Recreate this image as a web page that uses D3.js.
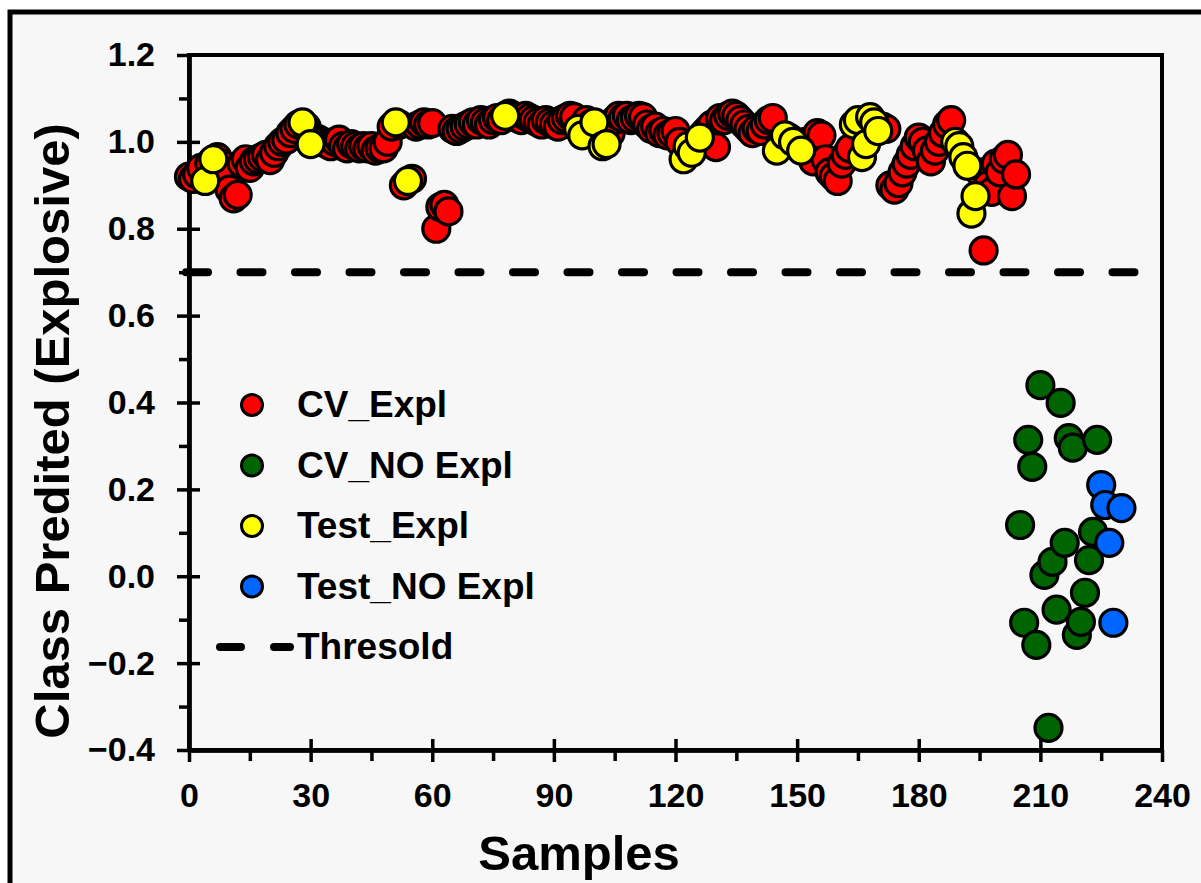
<!DOCTYPE html>
<html><head><meta charset="utf-8">
<script src="https://cdn.jsdelivr.net/npm/d3@7"></script>
<style>body{margin:0;background:#fff} svg{display:block} text{font-family:"Liberation Sans",Arial,sans-serif;font-weight:bold;}</style>
</head><body><svg id="c" width="1201" height="883"></svg>
<script>
// ---- data ----
const cvExplSamples = [0,1,2,3,5,7,8,9,10,11,12,13,14,15,16,17,18,19,20,21,22,23,24,25,26,27,29,31,32,33,34,35,36,37,38,39,40,41,42,43,44,45,46,47,48,49,50,52,53,55,56,57,58,59,60,61,62,63,64,65,66,67,68,69,70,71,72,73,74,75,76,77,79,80,81,82,83,84,85,86,87,88,89,90,91,92,93,94,95,98,99,101,104,105,106,107,108,109,110,111,112,113,114,115,116,117,118,119,120,121,125,127,128,129,130,131,132,133,134,135,136,137,138,139,140,141,142,143,144,146,148,150,152,153,154,155,156,157,158,159,160,161,162,163,171,172,173,174,175,176,177,178,179,180,181,182,183,184,185,186,187,188,195,196,197,198,199,200,201,202,203,204];
const cvExplValues = [0.92,0.915,0.925,0.94,0.95,0.965,0.95,0.92,0.89,0.87,0.878,0.95,0.96,0.94,0.955,0.96,0.965,0.97,0.958,0.975,0.99,1.0,1.005,1.02,1.03,1.04,1.035,1.01,1.005,1.0,0.995,0.99,1.0,1.005,0.99,0.985,0.995,0.99,0.985,0.99,0.985,0.99,0.98,0.985,0.985,1.0,1.035,1.04,0.9,0.915,1.035,1.04,1.045,1.04,1.043,0.80,0.85,0.855,0.84,1.03,1.025,1.03,1.035,1.04,1.045,1.04,1.05,1.045,1.04,1.05,1.055,1.05,1.065,1.06,1.055,1.05,1.06,1.055,1.05,1.045,1.04,1.05,1.045,1.04,1.035,1.05,1.055,1.06,1.057,1.05,1.04,1.03,1.02,1.05,1.06,1.055,1.06,1.05,1.055,1.06,1.057,1.04,1.03,1.035,1.02,1.025,1.015,1.02,1.025,1.0,1.0,1.02,1.03,1.04,0.988,1.055,1.05,1.06,1.065,1.06,1.05,1.04,1.03,1.02,1.03,1.025,1.04,1.05,1.055,1.0,1.01,0.99,1.0,0.99,0.955,1.02,1.015,0.96,0.93,0.92,0.91,0.95,0.97,0.985,1.035,1.03,0.9,0.89,0.905,0.93,0.95,0.97,0.99,1.01,1.0,0.98,0.955,0.98,1.0,1.02,1.04,1.05,0.93,0.75,0.9,0.885,0.95,0.93,0.96,0.97,0.875,0.925];
const cvNoExplSamples = [205,206,207,208,209,210,211,212,213,214,215,216,217,218,219,220,221,222,223,224];
const cvNoExplValues = [0.118,-0.107,0.314,0.252,-0.158,0.44,0.003,-0.349,0.033,-0.077,0.399,0.077,0.318,0.296,-0.135,-0.105,-0.038,0.037,0.102,0.314];
const testExplSamples = [4,6,28,30,51,54,78,96,97,100,102,103,122,123,124,126,145,147,149,151,164,165,166,167,168,169,170,189,190,191,192,193,194];
const testExplValues = [0.91,0.96,1.045,0.995,1.045,0.91,1.06,1.03,1.015,1.045,0.99,0.995,0.96,0.99,0.975,1.01,0.98,1.015,1.0,0.98,1.04,1.05,0.965,0.995,1.057,1.045,1.025,1.0,0.99,0.965,0.945,0.835,0.875];
const testNoExplSamples = [225,226,227,228,230];
const testNoExplValues = [0.21,0.164,0.077,-0.107,0.157];
const thresholdValue = 0.7;
const xTicks = [0,30,60,90,120,150,180,210,240];
const xMinorTicks = [15,45,75,105,135,165,195,225];
const yTicks = [-0.4,-0.2,0.0,0.2,0.4,0.6,0.8,1.0,1.2];
const yMinorTicks = [-0.3,-0.1,0.1,0.3,0.5,0.7,0.9,1.1];
const seriesNames = ["CV_Expl","CV_NO Expl","Test_Expl","Test_NO Expl"];
const seriesColors = ["#ff0000","#006400","#ffff00","#0066ff"];

// ---- drawing ----
const svg = d3.select("#c");
svg.append("rect").attr("x",10).attr("y",12).attr("width",1400).attr("height",1000)
  .attr("fill","#f7f7f7").attr("stroke","#000").attr("stroke-width",5);

const L=189,R=1162,T=55,B=750;
const x = d3.scaleLinear().domain([0,240]).range([L,R]);
const y = d3.scaleLinear().domain([-0.4,1.2]).range([B,T]);

svg.append("rect").attr("x",L).attr("y",T).attr("width",R-L).attr("height",B-T)
  .attr("fill","none").attr("stroke","#000").attr("stroke-width",4);

function styleAxis(g){
  g.select(".domain").attr("stroke","#000").attr("stroke-width",4);
  g.selectAll(".tick line").attr("stroke","#000").attr("stroke-width",3.5);
  g.selectAll("text").attr("fill","#000").style("font-size","34px").style("font-weight","bold");
}
const fmtY = d3.format(".1f");
svg.append("g").attr("transform",`translate(${L},0)`)
  .call(d3.axisLeft(y).tickValues(yTicks).tickSize(12).tickSizeOuter(0).tickPadding(22).tickFormat(fmtY)).call(styleAxis);
svg.append("g").attr("transform",`translate(${L},0)`)
  .call(d3.axisRight(y).tickValues(yTicks.slice(0,-1)).tickSize(11).tickSizeOuter(0).tickFormat("")).call(styleAxis);
svg.append("g").attr("transform",`translate(${L},0)`)
  .call(d3.axisLeft(y).tickValues(yMinorTicks).tickSize(10).tickSizeOuter(0).tickFormat("")).call(styleAxis);
svg.append("g").attr("transform",`translate(0,${B})`)
  .call(d3.axisBottom(x).tickValues(xTicks).tickSize(12).tickSizeOuter(0).tickPadding(21).tickFormat(d3.format("d"))).call(styleAxis);
svg.append("g").attr("transform",`translate(0,${B})`)
  .call(d3.axisTop(x).tickValues(xTicks.slice(1,-1)).tickSize(11).tickSizeOuter(0).tickFormat("")).call(styleAxis);
svg.append("g").attr("transform",`translate(0,${B})`)
  .call(d3.axisBottom(x).tickValues(xMinorTicks).tickSize(11).tickSizeOuter(0).tickFormat("")).call(styleAxis);

svg.append("line").attr("x1",186).attr("x2",1136).attr("y1",y(thresholdValue)).attr("y2",y(thresholdValue))
  .attr("stroke","#000").attr("stroke-width",8).attr("stroke-linecap","round").attr("stroke-dasharray","22 32.5");

const series = [
  [cvExplSamples,cvExplValues],
  [cvNoExplSamples,cvNoExplValues],
  [testExplSamples,testExplValues],
  [testNoExplSamples,testNoExplValues]
];
series.forEach(([xs,vs],i)=>{
  svg.append("g").selectAll("circle").data(xs.map((s,k)=>[s,vs[k]])).join("circle")
    .attr("cx",d=>x(d[0])).attr("cy",d=>y(d[1])).attr("r",13.5)
    .attr("fill",seriesColors[i]).attr("stroke","#000").attr("stroke-width",3.2);
});

const legY = [405,465.5,526,586.5,647];
seriesNames.forEach((n,i)=>{
  svg.append("circle").attr("cx",252).attr("cy",legY[i]).attr("r",10.5)
    .attr("fill",seriesColors[i]).attr("stroke","#000").attr("stroke-width",3);
  svg.append("text").attr("x",297).attr("y",legY[i]+12).style("font-size","37px").text(n);
});
svg.append("line").attr("x1",220).attr("x2",290).attr("y1",legY[4]).attr("y2",legY[4])
  .attr("stroke","#000").attr("stroke-width",8).attr("stroke-linecap","round").attr("stroke-dasharray","21 33");
svg.append("text").attr("x",297).attr("y",legY[4]+12).style("font-size","37px").text("Thresold");

svg.append("text").attr("x",579).attr("y",870).attr("text-anchor","middle").style("font-size","49px").text("Samples");
svg.append("text").attr("transform","translate(69,431) rotate(-90)").attr("text-anchor","middle").style("font-size","49px").text("Class Predited (Explosive)");
</script></body></html>
